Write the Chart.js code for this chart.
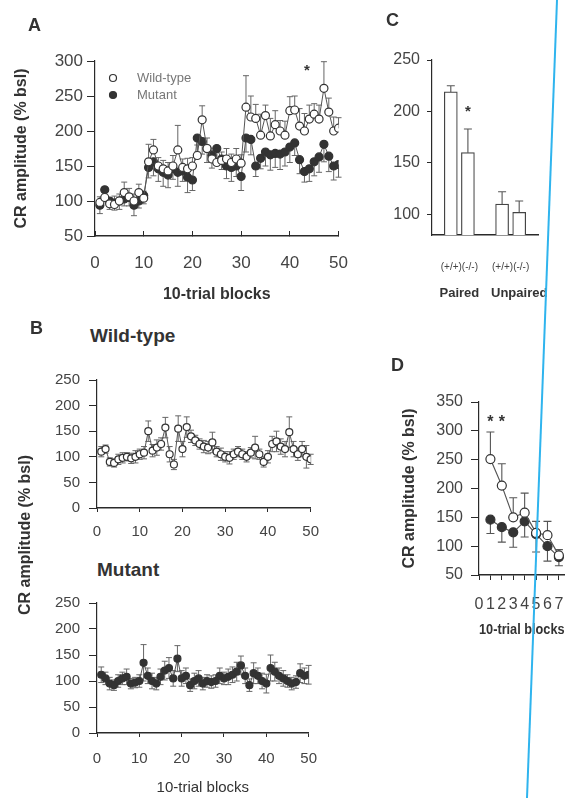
<!DOCTYPE html>
<html><head><meta charset="utf-8">
<script src="https://cdn.jsdelivr.net/npm/chart.js@4.4.0/dist/chart.umd.min.js"></script>
<style>
html,body{margin:0;padding:0;background:#fff;width:579px;height:798px;overflow:hidden;}
body{position:relative;font-family:"Liberation Sans",Arial,sans-serif;color:#333;}
canvas{position:absolute;}
.lbl{position:absolute;font-weight:bold;white-space:nowrap;line-height:1;color:#333;}
.rot{position:absolute;font-weight:bold;white-space:nowrap;line-height:1;color:#333;transform:translate(-50%,-50%) rotate(-90deg);}
svg{position:absolute;left:0;top:0;z-index:5;}
</style></head><body>
<canvas id="cA" width="370" height="310" style="left:0;top:0"></canvas>
<canvas id="cC" width="209" height="310" style="left:370px;top:0"></canvas>
<canvas id="cB1" width="330" height="180" style="left:0;top:360px"></canvas>
<canvas id="cB2" width="330" height="215" style="left:0;top:583px"></canvas>
<canvas id="cD" width="189" height="260" style="left:390px;top:380px"></canvas>

<div class="lbl" style="left:28px;top:16px;font-size:18px">A</div>
<div class="lbl" style="left:30px;top:319px;font-size:18px">B</div>
<div class="lbl" style="left:386px;top:11px;font-size:18px">C</div>
<div class="lbl" style="left:391px;top:356px;font-size:18px">D</div>
<div class="lbl" style="left:90px;top:326px;font-size:19px">Wild-type</div>
<div class="lbl" style="left:97px;top:560px;font-size:19px">Mutant</div>
<div class="rot" style="left:25px;top:535px;font-size:16px">CR amplitude (% bsl)</div>
<svg width="579" height="798"><line x1="557" y1="0" x2="527" y2="798" stroke="#2fb4ee" stroke-width="2"/></svg>

<script>
// ---------- DATA ----------
const blocksA = [1,2,3,4,5,6,7,8,9,10,11,12,13,14,15,16,17,18,19,20,21,22,23,24,25,26,27,28,29,30,31,32,33,34,35,36,37,38,39,40,41,42,43,44,45,46,47,48,49,50];
const wtA    = [98,105,96,95,100,112,106,100,112,104, 156,173,150,146,143,150,173,148,146,150, 165,216,175,160,155,158,160,155,160,154, 234,220,218,194,222,193,209,200,194,229, 230,207,200,217,224,217,261,227,200,204];
const wtAErr = [8,10,8,12,10,15,12,10,12,10, 25,15,12,12,12,15,35,12,15,12, 15,20,15,12,15,12,15,12,15,12, 45,30,20,30,15,25,20,15,20,20, 20,25,25,20,15,20,38,20,20,15];
const mutA   = [94,116,100,97,100,103,105,94,100,108, 148,156,146,141,137,146,141,143,134,130, 190,185,175,165,175,160,150,148,150,135, 190,188,150,161,170,166,168,167,170,177, 183,159,142,146,156,163,181,164,150,152];
const mutAErr= [12,10,12,10,12,10,12,15,10,12, 15,20,18,20,18,15,20,15,22,15, 20,18,20,18,22,15,18,20,15,20, 20,22,15,15,20,22,20,22,20,22, 18,20,15,18,20,22,25,22,20,18];
const starsA = [[43.5, 290]];
const xTicksA = [0,10,20,30,40,50];
const yTicksA = [50,100,150,200,250,300];

const wtB    = [110,115,90,88,95,98,100,97,100,105, 108,150,112,118,125,157,105,85,155,115, 158,140,132,125,120,118,128,110,105,100, 98,105,110,105,100,108,118,105,90,100, 125,130,120,115,148,115,105,115,100,95];
const wtBErr = [10,8,8,8,10,10,8,10,12,10, 12,20,12,15,12,20,15,10,25,15, 20,12,10,10,12,12,20,10,12,10, 12,10,10,10,10,10,22,10,10,12, 15,20,15,15,30,15,12,15,22,10];
const mutB   = [112,105,95,92,100,105,108,95,97,100, 135,110,100,95,108,120,125,105,143,105, 110,92,100,105,95,100,98,100,110,105, 108,112,118,130,110,92,115,110,100,95, 125,118,110,105,100,95,98,115,110,112];
const mutBErr= [15,12,12,10,12,12,15,10,10,12, 35,15,15,12,15,18,20,15,25,15, 15,12,15,15,12,12,12,12,15,12, 15,15,18,18,15,12,20,15,15,18, 25,18,15,15,12,12,12,18,15,18];
const xTicksB = [0,10,20,30,40,50];
const yTicksB = [0,50,100,150,200,250];

const cGenotypes = ['(+/+)','(-/-)','(+/+)','(-/-)'];
const cGroups = ['Paired','Unpaired'];
const cPos = [1,2,4,5];
const cGroupPos = [1.5,4.5];
const cGroupLabelPos = [1.5,5.0];
const cValues = [219,160,110,102];
const cErr = [6,23,12,11];
const starsC = [[2, 203]];
const yTicksC = [100,150,200,250];

const blocksD = [1,2,3,4,5,6,7];
const wtD    = [251,205,150,158,123,119,84];
const wtDErr = [47,38,34,34,20,24,10];
const mutD   = [146,133,124,143,121,100,81];
const mutDErr= [24,26,26,27,31,26,15];
const starsD = [[1, 320],[2, 320]];
const xTicksD = [0,1,2,3,4,5,6,7];
const yTicksD = [50,100,150,200,250,300,350];

// ---------- STYLE ----------
const FF = "'Liberation Sans', Arial, sans-serif";
const TICK = '#444', AX = '#2a2a2a', TTL = '#333';

const errorBars = {
  id: 'errorBars',
  beforeDatasetsDraw(chart, args, o) {
    const ctx = chart.ctx, ys = chart.scales.y;
    chart.data.datasets.forEach((ds, di) => {
      if (!ds.errors) return;
      const meta = chart.getDatasetMeta(di);
      ctx.save();
      ctx.strokeStyle = o.color || '#555';
      ctx.lineWidth = o.width || 1;
      const cap = o.cap || 3;
      meta.data.forEach((el, i) => {
        const d = ds.data[i];
        const v = (typeof d === 'object') ? d.y : d;
        const e = ds.errors[i];
        if (e == null) return;
        const x = el.x, yv = ys.getPixelForValue(v);
        const up = ys.getPixelForValue(v + e), dn = ys.getPixelForValue(v - e);
        ctx.beginPath();
        if (ds.errDir !== 'down') { ctx.moveTo(x, yv); ctx.lineTo(x, up); ctx.moveTo(x - cap, up); ctx.lineTo(x + cap, up); }
        if (ds.errDir !== 'up') { ctx.moveTo(x, yv); ctx.lineTo(x, dn); ctx.moveTo(x - cap, dn); ctx.lineTo(x + cap, dn); }
        ctx.stroke();
      });
      ctx.restore();
    });
  }
};

const stars = {
  id: 'stars',
  afterDatasetsDraw(chart, args, o) {
    if (!o.items) return;
    const ctx = chart.ctx;
    ctx.save();
    ctx.fillStyle = o.color || '#333';
    ctx.font = o.font || ('bold 16px ' + FF);
    ctx.textAlign = 'center'; ctx.textBaseline = 'middle';
    o.items.forEach(p => {
      ctx.fillText('*', chart.scales.x.getPixelForValue(p[0]), chart.scales.y.getPixelForValue(p[1]) + 3);
    });
    ctx.restore();
  }
};

const insetLegend = {
  id: 'insetLegend',
  afterDraw(chart, args, o) {
    if (!o.show) return;
    const ctx = chart.ctx, ca = chart.chartArea;
    chart.data.datasets.forEach((ds, i) => {
      const cx = ca.left + o.dx, cy = ca.top + o.dy + i * o.gap;
      ctx.save();
      ctx.beginPath(); ctx.arc(cx, cy, o.r, 0, Math.PI * 2);
      ctx.fillStyle = ds.pointBackgroundColor; ctx.fill();
      ctx.lineWidth = ds.pointBorderWidth; ctx.strokeStyle = ds.pointBorderColor; ctx.stroke();
      ctx.fillStyle = o.color; ctx.font = o.font; ctx.textBaseline = 'middle'; ctx.textAlign = 'left';
      ctx.fillText(ds.label, cx + o.textDx, cy);
      ctx.restore();
    });
  }
};

const groupLabels = {
  id: 'groupLabels',
  afterDraw(chart, args, o) {
    if (!o.labels) return;
    const ctx = chart.ctx;
    ctx.save();
    ctx.fillStyle = o.color; ctx.font = o.font; ctx.textAlign = 'center'; ctx.textBaseline = 'middle';
    o.labels.forEach((t, i) => ctx.fillText(t, chart.scales.x.getPixelForValue(o.pos[i]), o.y));
    ctx.restore();
  }
};

Chart.register(errorBars, stars, insetLegend, groupLabels);

function xAxis(o) {
  return {
    type: 'linear', min: o.min, max: o.max, offset: false,
    afterFit: s => { s.height = o.h; },
    afterBuildTicks: s => { s.ticks = o.ticks.map(v => ({ value: v })); },
    ticks: { autoSkip: false, maxRotation: 0, padding: o.pad, color: TICK, font: { family: FF, size: o.fs },
             callback: o.cb || (v => String(v)) },
    grid: { offset: false, drawOnChartArea: false, drawTicks: o.tl !== 0, tickLength: o.tl, color: AX },
    border: { display: true, color: AX, width: 1.4 },
    title: o.title ? { display: true, text: o.title, color: TTL, font: { family: FF, size: o.tfs, weight: o.tw || 'bold' }, padding: { top: 0, bottom: o.tpb } } : { display: false }
  };
}
function yAxis(o) {
  return {
    type: 'linear', min: o.min, max: o.max,
    afterFit: s => { s.width = o.w; },
    afterBuildTicks: s => { s.ticks = o.ticks.map(v => ({ value: v })); },
    ticks: { padding: o.pad, color: TICK, font: { family: FF, size: o.fs }, callback: v => String(v) },
    grid: { drawOnChartArea: false, drawTicks: true, tickLength: o.tl, color: AX },
    border: { display: true, color: AX, width: 1.2 },
    title: o.title ? { display: true, text: o.title, color: TTL, font: { family: FF, size: o.tfs, weight: 'bold' }, padding: { top: o.tpt, bottom: 0 } } : { display: false }
  };
}
function pts(xs, ys) { return xs.map((x, i) => ({ x: x, y: ys[i] })); }
function ser(label, xs, ys, errs, dir, filled, r, lw) {
  return {
    label: label, data: pts(xs, ys), errors: errs, errDir: dir,
    showLine: true, borderColor: '#555', borderWidth: lw,
    pointRadius: r, pointHoverRadius: r,
    pointBackgroundColor: filled ? '#333' : '#fff',
    pointBorderColor: '#333', pointBorderWidth: 1.2
  };
}
const base = { responsive: false, animation: false, events: [] };

// ---------- PANEL A ----------
new Chart(document.getElementById('cA'), {
  type: 'line',
  data: { datasets: [
    ser('Wild-type', blocksA, wtA, wtAErr, 'up', false, 4, 1),
    ser('Mutant', blocksA, mutA, mutAErr, 'down', true, 4, 1)
  ]},
  options: Object.assign({}, base, {
    layout: { padding: { top: 61, right: 22, left: 0, bottom: 0 } },
    plugins: {
      legend: { display: false }, tooltip: { enabled: false },
      errorBars: { color: '#666', width: 1, cap: 3 },
      stars: { items: starsA, font: 'bold 15px ' + FF },
      insetLegend: { show: true, dx: 18, dy: 17, gap: 17, r: 3.5, textDx: 24, color: '#777', font: '13px ' + FF }
    },
    scales: {
      x: xAxis({ min: 0, max: 50, ticks: xTicksA, h: 74, pad: 22, fs: 17, tl: -5, title: '10-trial blocks', tfs: 16, tpb: 6 }),
      y: yAxis({ min: 50, max: 300, ticks: yTicksA, w: 95, pad: 4, fs: 17, tl: 8, title: 'CR amplitude (% bsl)', tfs: 16, tpt: 12 })
    }
  })
});

// ---------- PANEL C ----------
new Chart(document.getElementById('cC'), {
  type: 'bar',
  data: { datasets: [{
    label: 'CR', data: pts(cPos, cValues), errors: cErr, errDir: 'up',
    backgroundColor: '#fff', borderColor: '#444', borderWidth: 1.2, barThickness: 13
  }]},
  options: Object.assign({}, base, {
    layout: { padding: { top: 60, right: 41, left: 0, bottom: 0 } },
    plugins: {
      legend: { display: false }, tooltip: { enabled: false },
      errorBars: { color: '#555', width: 1.1, cap: 4 },
      stars: { items: starsC, font: 'bold 15px ' + FF },
      groupLabels: { labels: cGroups, pos: cGroupLabelPos, y: 293, color: TTL, font: 'bold 13px ' + FF }
    },
    scales: {
      x: xAxis({ min: -0.1, max: 6.1, ticks: cGroupPos, h: 75, pad: 26, fs: 10, tl: 0,
                 cb: (v) => cGenotypes[0] + cGenotypes[1] }),
      y: yAxis({ min: 80, max: 250, ticks: yTicksC, w: 62, pad: 7, fs: 16, tl: 5 })
    }
  })
});

// ---------- PANEL B (Wild-type) ----------
new Chart(document.getElementById('cB1'), {
  type: 'line',
  data: { datasets: [ ser('Wild-type', blocksA, wtB, wtBErr, 'both', false, 3.5, 1) ] },
  options: Object.assign({}, base, {
    layout: { padding: { top: 20, right: 19, left: 0, bottom: 0 } },
    plugins: { legend: { display: false }, tooltip: { enabled: false }, errorBars: { color: '#666', width: 1, cap: 3 } },
    scales: {
      x: xAxis({ min: 0, max: 50, ticks: xTicksB, h: 32, pad: 11, fs: 15, tl: 4 }),
      y: yAxis({ min: 0, max: 250, ticks: yTicksB, w: 97, pad: 9, fs: 15, tl: 8 })
    }
  })
});

// ---------- PANEL B (Mutant) ----------
new Chart(document.getElementById('cB2'), {
  type: 'line',
  data: { datasets: [ ser('Mutant', blocksA, mutB, mutBErr, 'both', true, 3.5, 1) ] },
  options: Object.assign({}, base, {
    layout: { padding: { top: 20, right: 21, left: 0, bottom: 0 } },
    plugins: { legend: { display: false }, tooltip: { enabled: false }, errorBars: { color: '#666', width: 1, cap: 3 } },
    scales: {
      x: xAxis({ min: 0, max: 50, ticks: xTicksB, h: 65, pad: 13, fs: 15, tl: 4, title: '10-trial blocks', tfs: 15, tw: 'normal', tpb: 1 }),
      y: yAxis({ min: 0, max: 250, ticks: yTicksB, w: 97, pad: 9, fs: 15, tl: 8 })
    }
  })
});

// ---------- PANEL D ----------
new Chart(document.getElementById('cD'), {
  type: 'line',
  data: { datasets: [
    ser('Wild-type', blocksD, wtD, wtDErr, 'up', false, 4.5, 1.2),
    ser('Mutant', blocksD, mutD, mutDErr, 'down', true, 4.5, 1.2)
  ]},
  options: Object.assign({}, base, {
    layout: { padding: { top: 22, right: 10, left: 0, bottom: 0 } },
    plugins: {
      legend: { display: false }, tooltip: { enabled: false },
      errorBars: { color: '#555', width: 1.1, cap: 4 },
      stars: { items: starsD, font: 'bold 16px ' + FF }
    },
    scales: {
      x: xAxis({ min: 0, max: 7.5, ticks: xTicksD, h: 65, pad: 15, fs: 16, tl: 5, title: '10-trial blocks', tfs: 15, tpb: 1 }),
      y: yAxis({ min: 50, max: 350, ticks: yTicksD, w: 89, pad: 8, fs: 16, tl: 8, title: 'CR amplitude (% bsl)', tfs: 16, tpt: 10 })
    }
  })
});
</script>
</body></html>
